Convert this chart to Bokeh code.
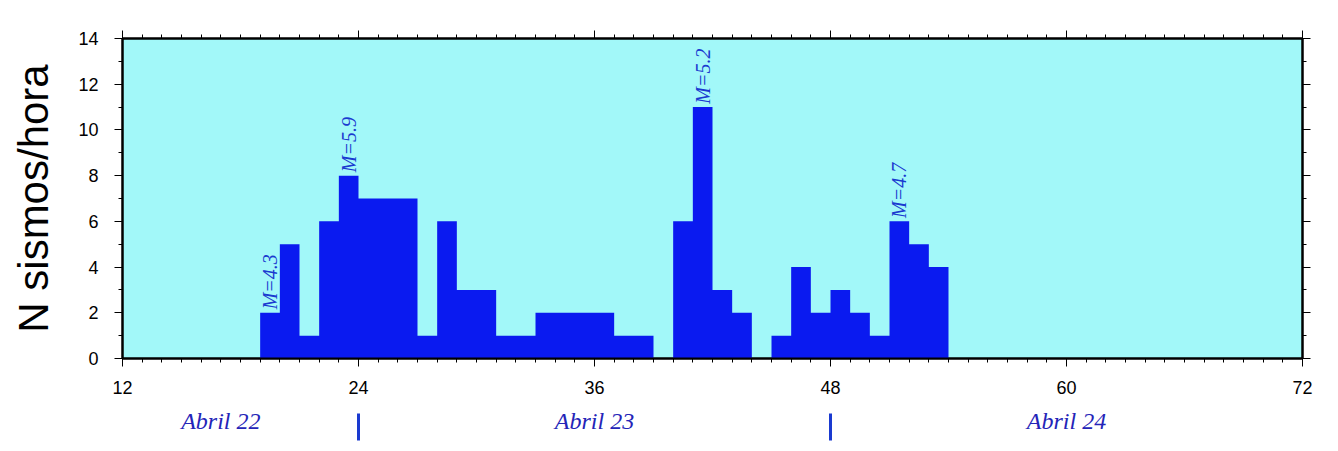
import math
from bokeh.plotting import figure
from bokeh.layouts import column
from bokeh.models import (LinearAxis, FixedTicker, Range1d, ColumnDataSource,
                          CustomJSTickFormatter)
from bokeh.core.properties import value
from bokeh.embed import file_html
from bokeh.resources import INLINE

# ---- data ----
hours = list(range(19, 54))
counts = [2, 5, 1, 6, 8, 7, 7, 7, 1, 6, 3, 3, 1, 1, 2, 2, 2, 2, 1, 1,
          0, 6, 11, 3, 2, 0, 1, 4, 2, 3, 2, 1, 6, 5, 4]
annot_hours = [19, 23, 41, 51]
annot_labels = ["M=4.3", "M=5.9", "M=5.2", "M=4.7"]
x_major = [12, 24, 36, 48, 60, 72]
y_major = [0, 2, 4, 6, 8, 10, 12, 14]
day_label_pos = [17, 36, 60]
day_labels = ["Abril 22", "Abril 23", "Abril 24"]
day_breaks = [24, 48]

BAR = "#0a1af0"
BG = "#a2f8f9"
ANN = "#1a3ad0"
DAY = "#2424b8"

p = figure(width=1330, height=402, output_backend="svg", toolbar_location=None,
           x_range=Range1d(12, 72), y_range=Range1d(0, 14),
           x_axis_location=None, y_axis_location=None,
           min_border_left=122, min_border_right=28, min_border_top=38,
           min_border_bottom=44)
p.background_fill_color = BG
p.border_fill_color = "white"
p.outline_line_color = "black"
p.outline_line_width = 2
p.xgrid.visible = False
p.ygrid.visible = False

xt = FixedTicker(ticks=x_major, minor_ticks=list(range(12, 73)))
yt = FixedTicker(ticks=y_major, minor_ticks=list(range(0, 15)))


def style(ax, labels=True):
    ax.axis_line_width = 2
    ax.axis_line_color = "black"
    ax.major_tick_out = 8
    ax.major_tick_in = 0
    ax.minor_tick_out = 4
    ax.minor_tick_in = 0
    ax.major_tick_line_width = 1
    ax.minor_tick_line_width = 1
    if labels:
        ax.major_label_text_font = "Liberation Sans"
        ax.major_label_text_font_size = "18px"
        ax.major_label_text_color = "black"
    else:
        ax.formatter = CustomJSTickFormatter(code="return ''")
        ax.major_label_standoff = 0


bx = LinearAxis(ticker=xt)
style(bx)
bx.major_label_standoff = 14
p.add_layout(bx, "below")

tx = LinearAxis(ticker=xt)
style(tx, labels=False)
p.add_layout(tx, "above")

ly = LinearAxis(ticker=yt, axis_label="N sismos/hora")
style(ly)
ly.major_label_standoff = 16
ly.axis_label_text_font = "Liberation Sans"
ly.axis_label_text_font_size = "42px"
ly.axis_label_text_font_style = "normal"
ly.axis_label_text_color = "black"
ly.axis_label_standoff = 18
p.add_layout(ly, "left")

ry = LinearAxis(ticker=yt)
style(ry, labels=False)
p.add_layout(ry, "right")

# hourly histogram drawn as one stepped area (no seams between bars)
step_x = hours + [hours[-1] + 1]
step_y = counts + [counts[-1]]
src = ColumnDataSource(dict(x=step_x, y1=[0] * len(step_x), y2=step_y))
p.varea_step(x="x", y1="y1", y2="y2", step_mode="after", source=src,
             fill_color=BAR)

# magnitude annotations
ann_y = [counts[hours.index(h)] + 0.15 for h in annot_hours]
asrc = ColumnDataSource(dict(x=[h + 0.5 for h in annot_hours], y=ann_y,
                             t=annot_labels))
p.text(x="x", y="y", text="t", source=asrc, angle=math.pi / 2,
       text_align="left", text_baseline="middle",
       text_font=value("Liberation Serif"), text_font_style="italic",
       text_font_size="20px", text_color=ANN)

# strip below the chart with the day labels (shares the x scale)
p2 = figure(width=1330, height=49, output_backend="svg", toolbar_location=None,
            x_range=p.x_range, y_range=Range1d(49, 0),
            x_axis_location=None, y_axis_location=None,
            min_border_left=122, min_border_right=28, min_border_top=0,
            min_border_bottom=0)
p2.outline_line_color = None
p2.background_fill_color = "white"
p2.border_fill_color = "white"
p2.xgrid.visible = False
p2.ygrid.visible = False

dsrc = ColumnDataSource(dict(x=day_label_pos, y=[18] * len(day_label_pos),
                             t=day_labels))
p2.text(x="x", y="y", text="t", source=dsrc, text_align="center",
        text_baseline="middle", text_font=value("Liberation Serif"),
        text_font_style="italic", text_font_size="24px", text_color=DAY)
bsrc = ColumnDataSource(dict(x=day_breaks, y0=[11] * len(day_breaks),
                             y1=[38] * len(day_breaks)))
p2.segment(x0="x", y0="y0", x1="x", y1="y1", source=bsrc,
           line_color=ANN, line_width=3)

open("out.html", "w").write(file_html(column(p, p2, spacing=0), INLINE))
